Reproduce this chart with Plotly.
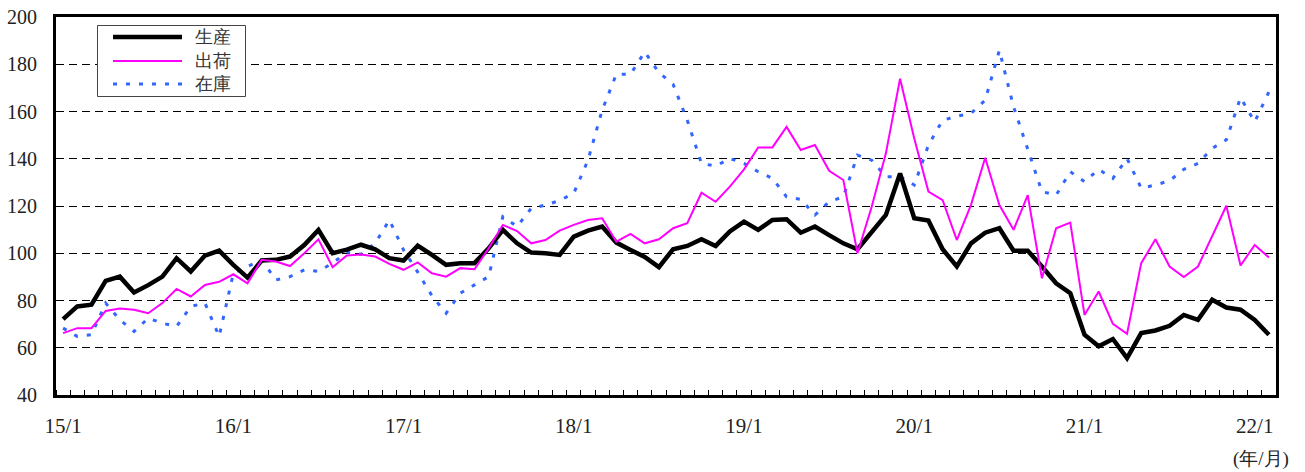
import plotly.graph_objects as go

year_labels = ["15/1", "16/1", "17/1", "18/1", "19/1", "20/1", "21/1", "22/1"]
series_names = ["生産", "出荷", "在庫"]

production = [
    72.1, 77.5, 78.2, 88.3, 90.1, 83.4, 86.5, 90.1, 97.9, 92.3, 99.0, 101.1,
    95.1, 89.7, 96.9, 97.2, 98.6, 103.5, 109.9, 100.0, 101.5, 103.6, 101.7, 97.9,
    96.9, 103.2, 99.3, 95.1, 95.8, 95.8, 102.1, 109.9, 104.2, 100.3, 100.0, 99.3,
    107.0, 109.6, 111.3, 104.5, 101.4, 98.4, 94.1, 101.7, 103.1, 105.9, 103.1, 109.2,
    113.4, 109.9, 114.1, 114.4, 108.7, 111.3, 107.7, 104.2, 101.7, 109.2, 116.2, 133.8,
    114.8, 113.8, 101.7, 94.4, 104.2, 108.7, 110.6, 101.1, 101.1, 94.4, 87.3, 83.1,
    65.5, 60.6, 63.7, 55.6, 66.2, 67.3, 69.3, 73.9, 71.8, 80.3, 77.0, 76.1,
    71.8, 65.5,
]

shipments = [
    66.2, 68.3, 68.3, 75.6, 76.6, 76.1, 74.6, 78.9, 84.9, 81.7, 86.6, 87.9,
    91.1, 87.3, 97.2, 96.5, 94.6, 100.0, 105.9, 94.1, 99.1, 99.5, 98.6, 95.5,
    93.0, 96.1, 91.5, 90.1, 93.7, 93.2, 102.1, 112.0, 109.4, 104.2, 105.6, 109.6,
    112.0, 114.1, 114.8, 104.9, 108.2, 104.2, 105.9, 110.6, 112.7, 125.6, 121.8, 128.2,
    135.5, 144.8, 144.8, 153.5, 143.7, 145.8, 134.9, 131.0, 100.0, 119.7, 142.3, 173.9,
    148.6, 126.1, 122.5, 105.6, 120.5, 140.4, 120.4, 109.9, 124.6, 89.4, 110.6, 113.0,
    73.9, 83.8, 70.1, 65.9, 95.8, 105.9, 94.4, 89.9, 94.4, 107.0, 120.1, 94.8,
    103.5, 98.2,
]

inventory = [
    68.3, 64.8, 65.5, 78.9, 71.8, 66.9, 72.5, 70.4, 69.0, 77.5, 78.9, 64.8,
    91.5, 94.4, 97.2, 88.7, 90.1, 93.0, 92.3, 95.8, 100.5, 99.5, 104.2, 114.1,
    101.4, 92.0, 82.0, 74.6, 83.1, 86.6, 90.1, 115.5, 111.3, 119.0, 120.4, 122.3,
    125.4, 139.4, 160.6, 175.8, 175.8, 185.2, 176.5, 171.5, 156.3, 138.0, 136.9, 140.1,
    138.0, 134.5, 131.7, 123.9, 122.8, 116.2, 121.8, 123.9, 141.5, 139.4, 132.4, 132.4,
    128.9, 145.8, 156.3, 158.0, 159.2, 164.8, 185.9, 162.0, 143.7, 126.1, 124.6, 134.5,
    130.3, 135.5, 131.7, 140.1, 127.5, 128.9, 130.7, 135.5, 138.0, 144.4, 148.0, 165.9,
    155.6, 168.3,
]

n = len(production)
x = list(range(n))
label_pos = [12 * k for k in range(len(year_labels))]

SERIF = "Liberation Serif"

styles = {
    "生産": dict(color="black", width=4.5),
    "出荷": dict(color="#FF00FF", width=2),
    "在庫": dict(color="#3366FF", width=3, dash="4px,9px"),
}
values = {"生産": production, "出荷": shipments, "在庫": inventory}

W, H = 1305, 472
ML, MR, MT, MB = 56, 29, 17, 77
PW, PH = W - ML - MR, H - MT - MB


def px_x(X):  # window pixel -> paper x
    return (X - ML) / PW


def px_y(Y):  # window pixel -> paper y
    return (H - MB - Y) / PH


fig = go.Figure()
for name in ["在庫", "生産", "出荷"]:
    fig.add_trace(go.Scatter(
        x=x, y=values[name], name=name, mode="lines",
        line=styles[name], showlegend=False, hoverinfo="skip",
    ))

shapes = [dict(
    type="rect", xref="paper", yref="paper",
    x0=px_x(97.5), x1=px_x(245.5), y0=px_y(96.5), y1=px_y(25.5),
    line=dict(color="#444444", width=1), fillcolor="white", layer="above",
)]
annotations = []
rows_y = [37, 61, 84]
for name, ry in zip(series_names, rows_y):
    st = styles[name]
    shapes.append(dict(
        type="line", xref="paper", yref="paper",
        x0=px_x(113), x1=px_x(182), y0=px_y(ry), y1=px_y(ry),
        line=dict(color=st["color"], width=st["width"], dash=st.get("dash", "solid")),
        layer="above",
    ))
    annotations.append(dict(
        text=name, xref="paper", yref="paper", x=px_x(193), y=px_y(ry),
        xanchor="left", yanchor="middle", showarrow=False,
        font=dict(family=SERIF, size=18, color="#333333"),
    ))

annotations.append(dict(
    text="(年/月)", xref="paper", yref="paper", x=px_x(1261), y=px_y(459),
    xanchor="center", yanchor="middle", showarrow=False,
    font=dict(family=SERIF, size=19, color="#222222"),
))

fig.update_layout(
    width=W, height=H,
    margin=dict(l=ML, r=MR, t=MT, b=MB, autoexpand=False),
    paper_bgcolor="white", plot_bgcolor="white",
    font=dict(family=SERIF, size=20, color="#222222"),
    showlegend=False,
    hovermode=False,
    xaxis=dict(
        range=[-0.5, n - 0.5], automargin=False, ticklabeloverflow="allow",
        tickmode="array", tickvals=label_pos, ticktext=year_labels,
        ticks="", showgrid=False, zeroline=False,
        showline=True, linecolor="black", linewidth=3, mirror=True,
        ticklabelstandoff=10,
        tickfont=dict(family=SERIF, size=21, color="#222222"),
        minor=dict(tickmode="linear", tick0=0.5, dtick=1, ticks="inside",
                   ticklen=5, tickwidth=1, tickcolor="black", showgrid=False),
    ),
    yaxis=dict(
        range=[40, 200], tickmode="linear", tick0=40, dtick=20, automargin=False,
        ticklabeloverflow="allow",
        ticks="", showgrid=True, gridcolor="black", gridwidth=1,
        griddash="8px,5px", zeroline=False,
        showline=True, linecolor="black", linewidth=3, mirror=True,
        ticklabelstandoff=12,
        tickfont=dict(family=SERIF, size=20, color="#222222"),
    ),
    shapes=shapes,
    annotations=annotations,
)

fig.write_html(
    "out.html",
    config={"displayModeBar": False, "staticPlot": True},
    post_script="document.body.style.margin='0px';document.body.style.overflow='hidden';",
)
